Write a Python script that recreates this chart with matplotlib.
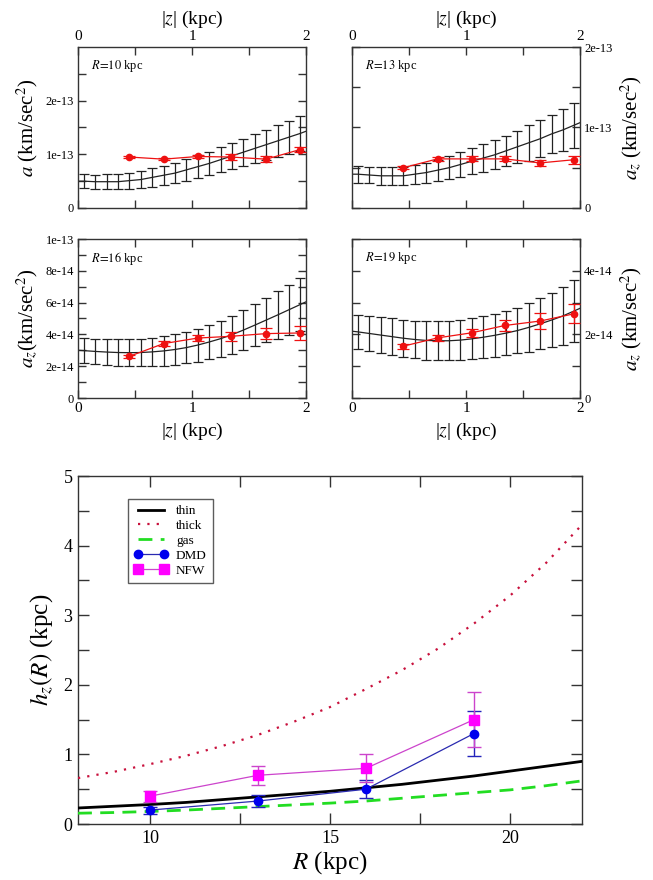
import matplotlib
matplotlib.use('Agg')
import matplotlib.pyplot as plt
from matplotlib.lines import Line2D
from matplotlib.ticker import FixedLocator, FuncFormatter, MultipleLocator

plt.rcParams['font.family'] = ['Liberation Serif', 'DejaVu Serif']
plt.rcParams['mathtext.fontset'] = 'stix'

# ---------------- data: vertical acceleration panels ----------------
z_model = [0.0, 0.05, 0.15, 0.25, 0.35, 0.45, 0.55, 0.65, 0.75, 0.85, 0.95,
           1.05, 1.15, 1.25, 1.35, 1.45, 1.55, 1.65, 1.75, 1.85, 1.95, 2.0]
z_data = [0.45, 0.75, 1.05, 1.34, 1.65, 1.95]

# R = 10 kpc  (units 1e-13 km/s^2)
model_R10 = [0.50, 0.50, 0.49, 0.49, 0.49, 0.51, 0.53, 0.57, 0.61, 0.65, 0.71,
             0.77, 0.83, 0.90, 0.97, 1.04, 1.11, 1.18, 1.25, 1.32, 1.39, 1.43]
err_R10 = [0.13, 0.13, 0.14, 0.14, 0.15, 0.16, 0.17, 0.18, 0.19, 0.20,
           0.21, 0.22, 0.23, 0.24, 0.25, 0.27, 0.28, 0.30, 0.31, 0.33]
data_R10 = [0.95, 0.91, 0.96, 0.95, 0.91, 1.09]
derr_R10 = [0.02, 0.02, 0.03, 0.05, 0.05, 0.05]

# R = 13 kpc  (units 1e-13)
model_R13 = [0.42, 0.42, 0.41, 0.40, 0.40, 0.40, 0.42, 0.44, 0.47, 0.50, 0.54,
             0.58, 0.62, 0.66, 0.71, 0.76, 0.81, 0.86, 0.92, 0.97, 1.03, 1.06]
err_R13 = [0.105, 0.105, 0.11, 0.11, 0.115, 0.12, 0.125, 0.13, 0.14, 0.15,
           0.16, 0.17, 0.18, 0.19, 0.20, 0.22, 0.23, 0.24, 0.26, 0.28]
data_R13 = [0.50, 0.61, 0.61, 0.61, 0.56, 0.60]
derr_R13 = [0.02, 0.02, 0.03, 0.03, 0.04, 0.05]

# R = 16 kpc  (units 1e-14)
model_R16 = [3.00, 2.98, 2.93, 2.89, 2.86, 2.85, 2.86, 2.90, 2.96, 3.05, 3.17,
             3.33, 3.52, 3.73, 3.98, 4.27, 4.58, 4.90, 5.22, 5.55, 5.88, 6.05]
err_R16 = [0.78, 0.79, 0.81, 0.83, 0.85, 0.87, 0.90, 0.93, 0.96, 1.00,
           1.04, 1.09, 1.14, 1.20, 1.26, 1.33, 1.40, 1.48, 1.57, 1.66]
data_R16 = [2.62, 3.42, 3.77, 3.88, 4.05, 4.09]
derr_R16 = [0.10, 0.15, 0.20, 0.30, 0.35, 0.45]

# R = 19 kpc  (units 1e-14)
model_R19 = [2.10, 2.08, 2.03, 1.98, 1.93, 1.88, 1.84, 1.81, 1.80, 1.80, 1.82,
             1.86, 1.91, 1.97, 2.04, 2.12, 2.22, 2.33, 2.45, 2.58, 2.74, 2.82]
err_R19 = [0.54, 0.55, 0.56, 0.57, 0.58, 0.59, 0.60, 0.61, 0.62, 0.63,
           0.64, 0.66, 0.68, 0.70, 0.72, 0.76, 0.80, 0.85, 0.91, 0.98]
data_R19 = [1.63, 1.89, 2.05, 2.28, 2.42, 2.65]
derr_R19 = [0.08, 0.10, 0.12, 0.18, 0.25, 0.30]

# ---------------- data: scale height panel ----------------
R_grid = [8, 9, 10, 11, 12, 13, 14, 15, 16, 17, 18, 19, 20, 21, 22]
h_thin = [0.23, 0.255, 0.28, 0.31, 0.35, 0.39, 0.43, 0.47, 0.52, 0.57,
          0.63, 0.69, 0.76, 0.83, 0.90]
h_thick = [0.66, 0.75, 0.86, 0.98, 1.12, 1.28, 1.47, 1.68, 1.94, 2.21,
           2.52, 2.88, 3.28, 3.75, 4.30]
h_gas = [0.155, 0.165, 0.18, 0.20, 0.225, 0.25, 0.275, 0.30, 0.33, 0.37,
         0.41, 0.45, 0.49, 0.55, 0.62]
R_pts = [10, 13, 16, 19]
h_dmd = [0.20, 0.33, 0.50, 1.30]
e_dmd = [0.05, 0.08, 0.13, 0.33]
h_nfw = [0.40, 0.70, 0.80, 1.50]
e_nfw = [0.08, 0.14, 0.20, 0.40]

W, H = 653, 880
fig = plt.figure(figsize=(W / 100, H / 100), dpi=100)


def fr(x0, x1, y0, y1):
    return [x0 / W, 1 - y1 / H, (x1 - x0) / W, (y1 - y0) / H]


SPINE = '#333333'


def style(ax):
    for s in ax.spines.values():
        s.set_color(SPINE)
        s.set_linewidth(1.0)
    ax.tick_params(which='both', direction='in', top=True, bottom=True,
                   left=True, right=True, color=SPINE, width=1.0)
    ax.tick_params(which='major', length=6)
    ax.tick_params(which='minor', length=6)


fmt = FuncFormatter(lambda v, p: '0' if v == 0 else '%g' % v)

panels = [
    dict(rect=fr(78, 306, 47, 208), model=model_R10, err=err_R10, data=data_R10,
         derr=derr_R10, unit=1e-13, ylim=3e-13, major=[0, 1e-13, 2e-13],
         minor=[0.5e-13, 1.5e-13, 2.5e-13], top=True, right=False,
         ylabel=r'$a$ (km/sec$^2$)', label=r'$R\!=\!\mathit{10}$ kpc'),
    dict(rect=fr(352, 580, 47, 208), model=model_R13, err=err_R13, data=data_R13,
         derr=derr_R13, unit=1e-13, ylim=2e-13, major=[0, 1e-13, 2e-13],
         minor=[0.5e-13, 1.5e-13], top=True, right=True,
         ylabel=r'$a_z$ (km/sec$^2$)', label=r'$R\!=\!\mathit{13}$ kpc'),
    dict(rect=fr(78, 306, 239, 398), model=model_R16, err=err_R16, data=data_R16,
         derr=derr_R16, unit=1e-14, ylim=1e-13,
         major=[0, 2e-14, 4e-14, 6e-14, 8e-14, 1e-13],
         minor=[1e-14, 3e-14, 5e-14, 7e-14, 9e-14], top=False, right=False,
         ylabel=r'$a_z$(km/sec$^2$)', label=r'$R\!=\!\mathit{16}$ kpc'),
    dict(rect=fr(352, 580, 239, 398), model=model_R19, err=err_R19, data=data_R19,
         derr=derr_R19, unit=1e-14, ylim=5e-14, major=[0, 2e-14, 4e-14],
         minor=[1e-14, 3e-14, 5e-14], top=False, right=True,
         ylabel=r'$a_z$ (km/sec$^2$)', label=r'$R\!=\!\mathit{19}$ kpc'),
]

for p in panels:
    ax = fig.add_axes(p['rect'])
    u = p['unit']
    mod = [v * u for v in p['model']]
    er = [v * u for v in p['err']]
    dat = [v * u for v in p['data']]
    der = [v * u for v in p['derr']]
    ax.plot(z_model, mod, color='#222222', lw=0.9, zorder=2)
    ax.errorbar(z_model[1:-1], mod[1:-1], yerr=er, fmt='none', ecolor='#222222',
                elinewidth=0.9, capsize=3.8, capthick=0.9, zorder=2)
    ax.errorbar(z_data, dat, yerr=der, fmt='-o', color='#ee1111', ms=4.5,
                lw=0.9, elinewidth=0.9, capsize=4.5, capthick=0.9, zorder=3)
    ax.set_xlim(0, 2)
    ax.set_ylim(0, p['ylim'])
    style(ax)
    ax.xaxis.set_major_locator(FixedLocator([0, 1, 2]))
    ax.xaxis.set_minor_locator(FixedLocator([0.5, 1.5]))
    ax.xaxis.set_major_formatter(FuncFormatter(lambda v, pos: '%d' % round(v)))
    ax.yaxis.set_major_locator(FixedLocator(p['major']))
    ax.yaxis.set_minor_locator(FixedLocator(p['minor']))
    ax.yaxis.set_major_formatter(fmt)
    ax.tick_params(axis='x', labelsize=11, pad=3)
    ax.tick_params(axis='y', labelsize=9, pad=3)
    if p['top']:
        ax.tick_params(axis='x', labeltop=True, labelbottom=False)
        ax.xaxis.set_label_position('top')
    if p['right']:
        ax.tick_params(axis='y', labelright=True, labelleft=False)
        ax.yaxis.set_label_position('right')
    ax.set_xlabel('|$z$| (kpc)', fontsize=14, labelpad=4)
    ax.set_ylabel(p['ylabel'], fontsize=15, labelpad=4)
    ax.text(0.057, 0.88, p['label'], transform=ax.transAxes, fontsize=9,
            va='center', ha='left')

# ---------------- bottom panel ----------------
ax = fig.add_axes(fr(78, 582, 476, 824))
ax.plot(R_grid, h_thin, color='black', lw=2.0, zorder=3)
ax.plot(R_grid, h_thick, color='#c8103c', lw=1.6, ls=(0, (1, 3.2)), zorder=3)
ax.plot(R_grid, h_gas, color='#22dd22', lw=2.0, ls=(0, (5, 3)), zorder=3)
ax.errorbar(R_pts, h_dmd, yerr=e_dmd, fmt='-o', color='#2a2ab0', mfc='#0000ee',
            mec='#0000ee', ms=6, lw=0.9, ecolor='#2222bb', elinewidth=1.0,
            capsize=5, capthick=1.0, zorder=4)
ax.errorbar(R_pts, h_nfw, yerr=e_nfw, fmt='-s', color='#cc44cc', mfc='#ff00ff',
            mec='#ff00ff', ms=6.5, lw=0.9, ecolor='#cc44cc', elinewidth=1.0,
            capsize=5, capthick=1.0, zorder=4)
ax.set_xlim(8, 22)
ax.set_ylim(0, 5)
style(ax)
ax.xaxis.set_major_locator(FixedLocator([10, 15, 20]))
ax.xaxis.set_minor_locator(FixedLocator([12.5, 17.5]))
ax.yaxis.set_major_locator(MultipleLocator(1))
ax.yaxis.set_minor_locator(MultipleLocator(0.5))
ax.tick_params(which='major', length=8)
ax.tick_params(which='minor', length=8)
ax.tick_params(axis='both', labelsize=13, pad=4)
ax.set_xlabel(r'$R$ (kpc)', fontsize=18, labelpad=2)
ax.set_ylabel(r'$h_z(R)$ (kpc)', fontsize=18, labelpad=6)

handles = [
    Line2D([], [], color='black', lw=2.0),
    Line2D([], [], color='#c8103c', lw=1.6, ls=(0, (1, 3.2))),
    Line2D([], [], color='#22dd22', lw=2.0, ls=(0, (5, 3))),
    Line2D([], [], color='#2a2ab0', lw=0.9, marker='o', ms=6,
           mfc='#0000ee', mec='#0000ee'),
    Line2D([], [], color='#cc44cc', lw=0.9, marker='s', ms=6.5,
           mfc='#ff00ff', mec='#ff00ff'),
]
labels = ['thin', 'thick', 'gas', 'DMD', 'NFW']
leg = ax.legend(handles, labels, loc='upper left',
                bbox_to_anchor=(0.099, 0.934), borderaxespad=0, fontsize=9.5,
                frameon=True, fancybox=False, edgecolor='#333333',
                handlelength=2.6, labelspacing=0.2, borderpad=0.45,
                handletextpad=0.6, numpoints=2)
leg.get_frame().set_linewidth(1.0)

fig.savefig('out.png', dpi=100)
